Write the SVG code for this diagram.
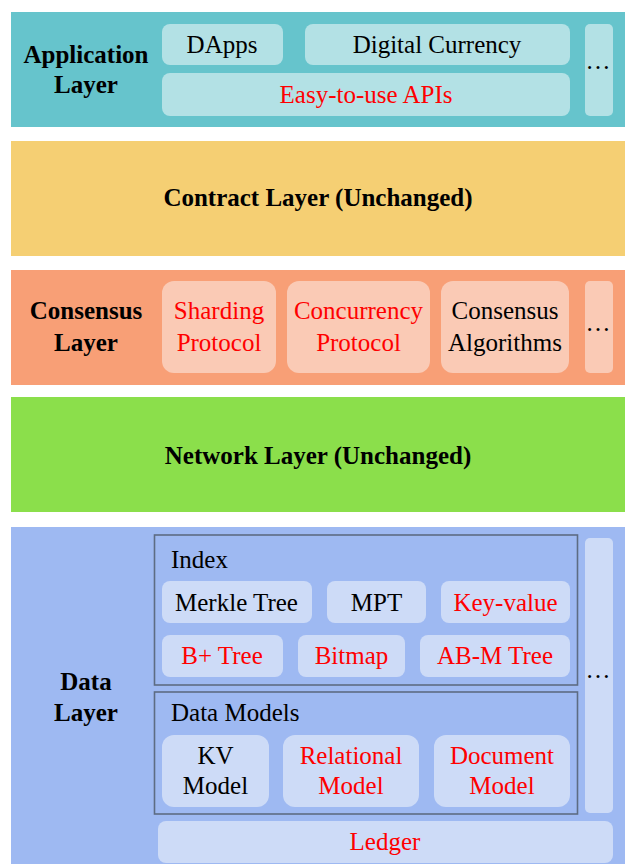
<svg xmlns="http://www.w3.org/2000/svg" width="625" height="864" viewBox="0 0 625 864" font-family="Liberation Serif, serif">
<style>
text{font-size:25px;text-anchor:middle;fill:#000}
.b{font-weight:bold}
.r{fill:#FF0000}
.l{text-anchor:start}
.app{fill:#B3E1E5}
.con{fill:#FACAB5}
.dat{fill:#CDDBF7}
.frame{fill:none;stroke:#5D6C83;stroke-width:1.6}
</style>
<rect width="625" height="864" fill="#fff"/>
<g id="application-layer">
<rect x="11" y="12" width="614" height="115" fill="#66C4CC"/>
<text class="b" x="86" y="63">Application</text>
<text class="b" x="86" y="93">Layer</text>
<g id="dapps"><rect class="app" x="162" y="24" width="121" height="41" rx="8"/><text x="222" y="53">DApps</text></g>
<g id="digital-currency"><rect class="app" x="305" y="24" width="265" height="41" rx="8"/><text x="437" y="53">Digital Currency</text></g>
<g id="apis"><rect class="app" x="162" y="73" width="408" height="43" rx="8"/><text class="r" x="366" y="103">Easy-to-use APIs</text></g>
<g id="app-more"><rect class="app" x="585" y="24" width="28" height="92" rx="5"/><text x="598" y="69">…</text></g>
</g>
<g id="contract-layer">
<rect x="11" y="141" width="614" height="115" fill="#F5CF73"/>
<text class="b" x="318" y="206">Contract Layer (Unchanged)</text>
</g>
<g id="consensus-layer">
<rect x="11" y="270" width="614" height="115" fill="#F89F76"/>
<text class="b" x="86" y="319">Consensus</text>
<text class="b" x="86" y="351">Layer</text>
<g id="sharding"><rect class="con" x="162" y="281" width="114" height="92" rx="12"/><text class="r" x="219" y="319">Sharding</text><text class="r" x="219" y="351">Protocol</text></g>
<g id="concurrency"><rect class="con" x="287" y="281" width="143" height="92" rx="12"/><text class="r" x="358.5" y="319">Concurrency</text><text class="r" x="358.5" y="351">Protocol</text></g>
<g id="consensus-alg"><rect class="con" x="441" y="281" width="128" height="92" rx="12"/><text x="505" y="319">Consensus</text><text x="505" y="351">Algorithms</text></g>
<g id="con-more"><rect class="con" x="585" y="281" width="28" height="92" rx="5"/><text x="598" y="331">…</text></g>
</g>
<g id="network-layer">
<rect x="11" y="397" width="614" height="115" fill="#8BDF4B"/>
<text class="b" x="318" y="464">Network Layer (Unchanged)</text>
</g>
<g id="data-layer">
<rect x="11" y="527" width="614" height="337" fill="#9EB9F2"/>
<text class="b" x="86" y="690">Data</text>
<text class="b" x="86" y="721">Layer</text>
<g id="index">
<rect class="frame" x="154.5" y="535" width="423" height="150"/>
<text class="l" x="171" y="568">Index</text>
<g id="merkle"><rect class="dat" x="162" y="581" width="150" height="42" rx="8"/><text x="236.5" y="611">Merkle Tree</text></g>
<g id="mpt"><rect class="dat" x="327" y="581" width="99" height="42" rx="8"/><text x="376.5" y="611">MPT</text></g>
<g id="key-value"><rect class="dat" x="441" y="581" width="129" height="42" rx="8"/><text class="r" x="505.5" y="611">Key-value</text></g>
<g id="bplus"><rect class="dat" x="162" y="635" width="121" height="42" rx="8"/><text class="r" x="222" y="664">B+ Tree</text></g>
<g id="bitmap"><rect class="dat" x="298" y="635" width="107" height="42" rx="8"/><text class="r" x="351.5" y="664">Bitmap</text></g>
<g id="abm"><rect class="dat" x="420" y="635" width="150" height="42" rx="8"/><text class="r" x="495" y="664">AB-M Tree</text></g>
</g>
<g id="data-models">
<rect class="frame" x="154.5" y="692" width="423" height="122"/>
<text class="l" x="171" y="721">Data Models</text>
<g id="kv"><rect class="dat" x="162" y="735" width="107" height="72" rx="12"/><text x="215.5" y="764">KV</text><text x="215.5" y="794">Model</text></g>
<g id="relational"><rect class="dat" x="283" y="735" width="136" height="72" rx="12"/><text class="r" x="351" y="764">Relational</text><text class="r" x="351" y="794">Model</text></g>
<g id="document"><rect class="dat" x="434" y="735" width="136" height="72" rx="12"/><text class="r" x="502" y="764">Document</text><text class="r" x="502" y="794">Model</text></g>
</g>
<g id="data-more"><rect class="dat" x="585" y="538" width="28" height="275" rx="5"/><text x="598" y="678">…</text></g>
<g id="ledger"><rect class="dat" x="158" y="821" width="455" height="42" rx="8"/><text class="r" x="385" y="850">Ledger</text></g>
</g>
</svg>
